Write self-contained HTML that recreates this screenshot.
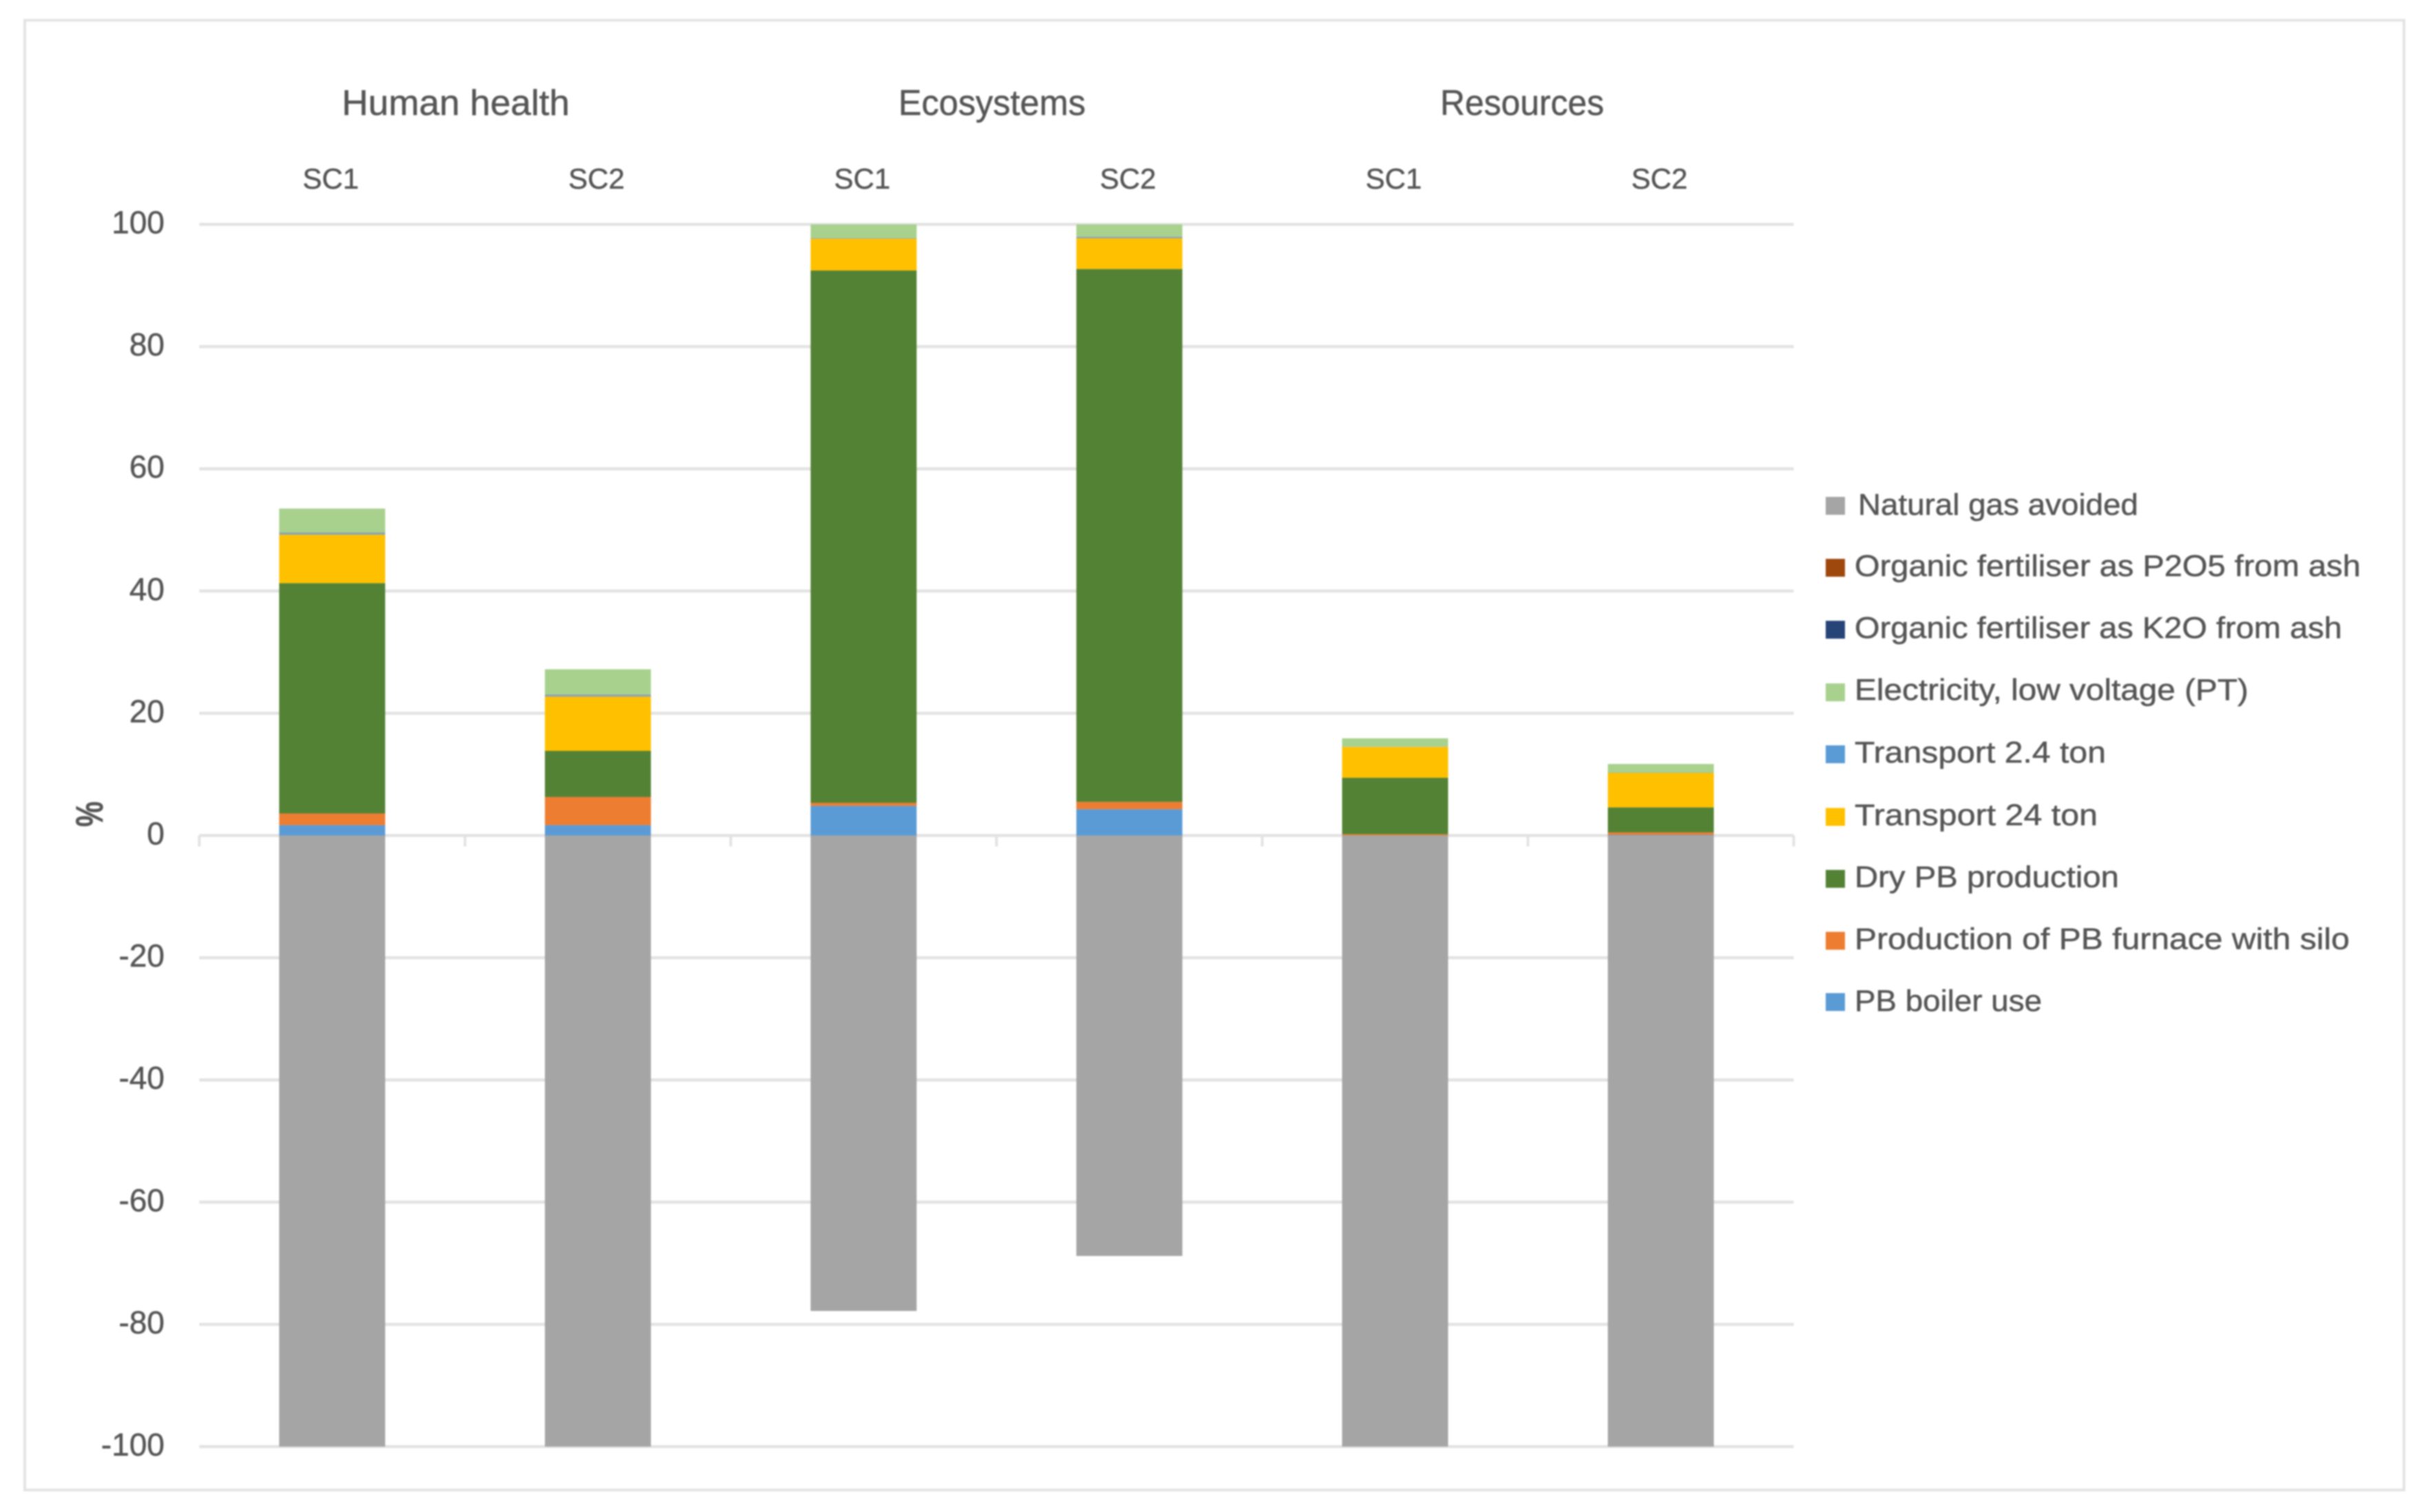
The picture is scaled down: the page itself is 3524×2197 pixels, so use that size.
<!DOCTYPE html>
<html lang="en">
<head>
<meta charset="utf-8">
<title>Stacked contribution chart</title>
<style>
  html, body { margin: 0; padding: 0; background: #ffffff; width: 3524px; height: 2197px; overflow: hidden; }
  #chart { display: block; filter: blur(1.1px); }
  text { font-family: "Liberation Sans", sans-serif; fill: #555555; stroke: #555555; stroke-width: 0.5px; }
  .group-title { font-size: 52px; text-anchor: middle; }
  .scenario { font-size: 42px; text-anchor: middle; }
  .tick-label { font-size: 46px; text-anchor: end; }
  .legend-text { font-size: 44px; }
</style>
</head>
<body>
<svg id="chart" xmlns="http://www.w3.org/2000/svg" width="3524" height="2197" viewBox="0 0 3524 2197">
  <rect x="0" y="0" width="3524" height="2197" fill="#ffffff"/>
  <rect x="36" y="29.5" width="3456" height="2135.5" fill="#ffffff" stroke="#e4e4e4" stroke-width="4"/>

  <g id="grid-layer"></g>
  <g id="tick-layer"></g>
  <g id="bar-layer"></g>
  <g id="y-label-layer"></g>
  <g id="x-label-layer"></g>

  <text class="group-title" x="662" y="167" textLength="331" lengthAdjust="spacingAndGlyphs">Human health</text>
  <text class="group-title" x="1441" y="167" textLength="272" lengthAdjust="spacingAndGlyphs">Ecosystems</text>
  <text class="group-title" x="2211" y="167" textLength="238" lengthAdjust="spacingAndGlyphs">Resources</text>

  <text transform="translate(149 1183) rotate(-90)" text-anchor="middle" font-size="56" textLength="37" lengthAdjust="spacingAndGlyphs" style="font-weight:bold">%</text>

  <g>
    <g>
      <rect x="2652" y="722" width="28" height="26" fill="#a5a5a5"/>
      <text class="legend-text" x="2699" y="748" textLength="407" lengthAdjust="spacingAndGlyphs">Natural gas avoided</text>
    </g>
    <g>
      <rect x="2652" y="812" width="28" height="26" fill="#9e480e"/>
      <text class="legend-text" x="2694" y="837" textLength="735" lengthAdjust="spacingAndGlyphs">Organic fertiliser as P2O5 from ash</text>
    </g>
    <g>
      <rect x="2652" y="902" width="28" height="26" fill="#264478"/>
      <text class="legend-text" x="2694" y="927" textLength="708" lengthAdjust="spacingAndGlyphs">Organic fertiliser as K2O from ash</text>
    </g>
    <g>
      <rect x="2652" y="993" width="28" height="26" fill="#a9d18e"/>
      <text class="legend-text" x="2694" y="1017" textLength="572" lengthAdjust="spacingAndGlyphs">Electricity, low voltage (PT)</text>
    </g>
    <g>
      <rect x="2652" y="1083" width="28" height="26" fill="#5b9bd5"/>
      <text class="legend-text" x="2694" y="1108" textLength="365" lengthAdjust="spacingAndGlyphs">Transport 2.4 ton</text>
    </g>
    <g>
      <rect x="2652" y="1174" width="28" height="26" fill="#ffc000"/>
      <text class="legend-text" x="2694" y="1199" textLength="353" lengthAdjust="spacingAndGlyphs">Transport 24 ton</text>
    </g>
    <g>
      <rect x="2652" y="1264" width="28" height="26" fill="#548235"/>
      <text class="legend-text" x="2694" y="1289" textLength="384" lengthAdjust="spacingAndGlyphs">Dry PB production</text>
    </g>
    <g>
      <rect x="2652" y="1354" width="28" height="26" fill="#ed7d31"/>
      <text class="legend-text" x="2694" y="1379" textLength="719" lengthAdjust="spacingAndGlyphs">Production of PB furnace with silo</text>
    </g>
    <g>
      <rect x="2652" y="1443" width="28" height="26" fill="#5b9bd5"/>
      <text class="legend-text" x="2694" y="1469" textLength="272" lengthAdjust="spacingAndGlyphs">PB boiler use</text>
    </g>
  </g>
</svg>

<script>
// Chart data
const categories = ["SC1", "SC2", "SC1", "SC2", "SC1", "SC2"];
const tickValues = [100, 80, 60, 40, 20, 0, -20, -40, -60, -80, -100];

const pbBoilerUse      = [1.7, 1.7, 4.85, 4.3, 0, 0.1];
const furnaceWithSilo  = [1.9, 4.6, 0.5, 1.2, 0.2, 0.4];
const dryPbProduction  = [37.7, 7.55, 87.1, 87.2, 9.25, 4.1];
const transport24Ton   = [7.9, 8.85, 5.2, 5.0, 5.05, 5.65];
const transport2p4Ton  = [0.4, 0.4, 0.1, 0.3, 0.05, 0.05];
const electricity      = [3.9, 4.1, 2.25, 2.0, 1.35, 1.4];
const fertiliserK2O    = [0, 0, 0, 0, 0, 0];
const fertiliserP2O5   = [0, 0, 0, 0, 0, 0];
const naturalGasAvoided = [-100, -100, -77.8, -68.8, -100, -100];

const stackSeries = [
  { name: "pb-boiler-use", color: "#5b9bd5", values: pbBoilerUse },
  { name: "furnace-with-silo", color: "#ed7d31", values: furnaceWithSilo },
  { name: "dry-pb-production", color: "#548235", values: dryPbProduction },
  { name: "transport-24-ton", color: "#ffc000", values: transport24Ton },
  { name: "transport-2-4-ton", color: "#8fa5a8", values: transport2p4Ton },
  { name: "electricity", color: "#a9d18e", values: electricity },
  { name: "fertiliser-k2o", color: "#264478", values: fertiliserK2O },
  { name: "fertiliser-p2o5", color: "#9e480e", values: fertiliserP2O5 }
];

const SVG_NS = "http://www.w3.org/2000/svg";
const plotLeft = 289.5;
const plotRight = 2605.5;
const zeroY = 1214;
const unitPx = 8.88;
const barWidth = 154;

function yScale(v) { return zeroY - v * unitPx; }
function bandWidth() { return (plotRight - plotLeft) / categories.length; }
function xCenter(i) { return plotLeft + bandWidth() * (i + 0.5); }

const gridLayer = document.getElementById("grid-layer");
const tickLayer = document.getElementById("tick-layer");
const barLayer = document.getElementById("bar-layer");
const yLabelLayer = document.getElementById("y-label-layer");
const xLabelLayer = document.getElementById("x-label-layer");

function drawLine(parent, x1, y1, x2, y2, width) {
  const line = document.createElementNS(SVG_NS, "line");
  line.setAttribute("x1", x1);
  line.setAttribute("y1", y1);
  line.setAttribute("x2", x2);
  line.setAttribute("y2", y2);
  line.setAttribute("stroke", "#e3e3e3");
  line.setAttribute("stroke-width", width);
  parent.appendChild(line);
  return line;
}

tickValues.forEach(function (t) {
  const grid = drawLine(gridLayer, plotLeft, yScale(t), plotRight, yScale(t), 4.5);
  
  

  const label = document.createElementNS(SVG_NS, "text");
  
  
  label.setAttribute("class", "tick-label");
  label.setAttribute("x", 239);
  label.setAttribute("y", yScale(t) + 13);
  label.textContent = String(t);
  yLabelLayer.appendChild(label);
});

for (let i = 0; i <= categories.length; i++) {
  const x = plotLeft + bandWidth() * i;
  const tick = drawLine(tickLayer, x, zeroY, x, zeroY + 16, 4);
  
  
}

categories.forEach(function (cat, i) {
  const label = document.createElementNS(SVG_NS, "text");
  
  
  label.setAttribute("class", "scenario");
  label.setAttribute("x", xCenter(i) - 2);
  label.setAttribute("y", 274);
  label.textContent = cat;
  xLabelLayer.appendChild(label);

  const left = xCenter(i) - barWidth / 2;

  const gas = document.createElementNS(SVG_NS, "rect");
  
  
  gas.setAttribute("x", left);
  gas.setAttribute("y", yScale(0));
  gas.setAttribute("width", barWidth);
  gas.setAttribute("height", yScale(naturalGasAvoided[i]) - yScale(0));
  gas.setAttribute("fill", "#a5a5a5");
  barLayer.appendChild(gas);

  let base = 0;
  stackSeries.forEach(function (s) {
    const value = s.values[i];
    if (value > 0) {
      const seg = document.createElementNS(SVG_NS, "rect");
      
      
      seg.setAttribute("data-series", s.name);
      seg.setAttribute("x", left);
      seg.setAttribute("y", yScale(base + value));
      seg.setAttribute("width", barWidth);
      seg.setAttribute("height", yScale(base) - yScale(base + value));
      seg.setAttribute("fill", s.color);
      barLayer.appendChild(seg);
    }
    base += value;
  });
});
</script>
</body>
</html>
